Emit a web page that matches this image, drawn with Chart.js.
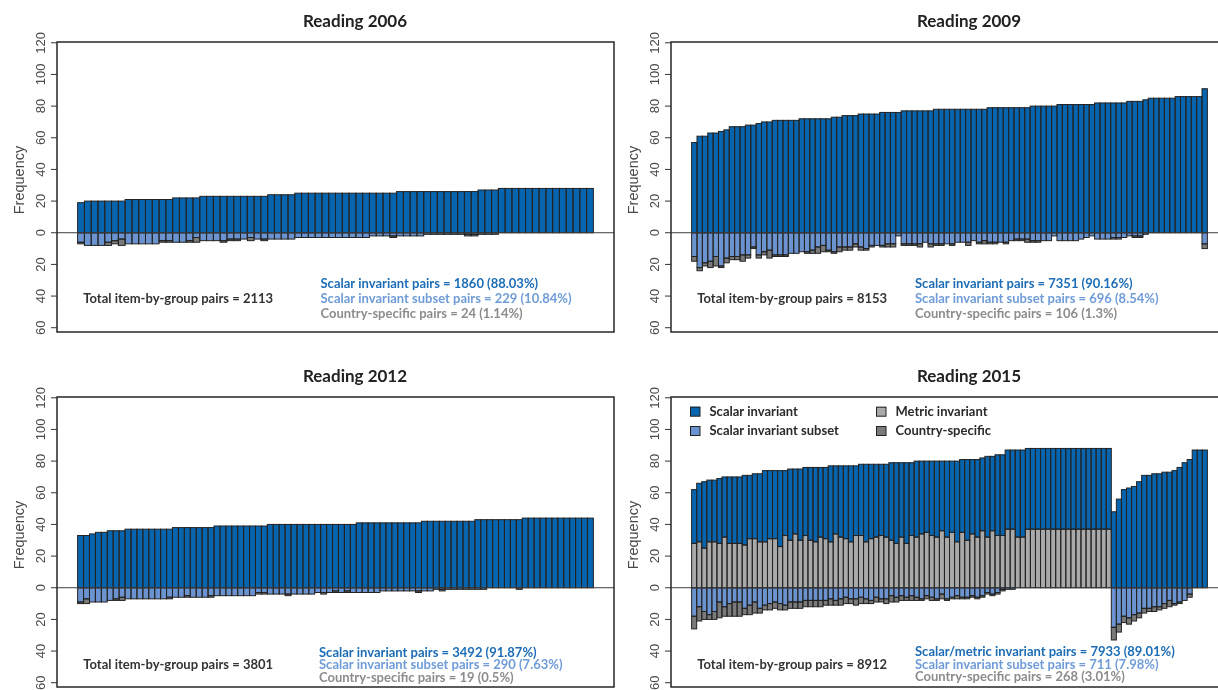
<!DOCTYPE html>
<html>
<head>
<meta charset="utf-8">
<title>Reading item-by-group invariance</title>
<script src="https://cdn.jsdelivr.net/npm/chart.js@4.4.1/dist/chart.umd.min.js"></script>
<style>
  html, body { margin: 0; padding: 0; background: #fff; overflow: hidden; width: 1218px; height: 690px; }
  .panel { position: absolute; width: 630px; height: 355px; }
  .panel canvas { display: block; }
</style>
</head>
<body>
<div class="panel" style="left:0;top:0"><canvas id="c2006" width="630" height="355"></canvas></div>
<div class="panel" style="left:614px;top:0"><canvas id="c2009" width="630" height="355"></canvas></div>
<div class="panel" style="left:0;top:355px"><canvas id="c2012" width="630" height="355"></canvas></div>
<div class="panel" style="left:614px;top:355px"><canvas id="c2015" width="630" height="355"></canvas></div>
<script>
// ---- Data: one bar per group, counts of items in each invariance class ----

// Reading 2006 (76 groups)
const invariant2006 = [19,20,20,20,20,20,20,21,21,21,21,21,21,21,22,22,22,22,
  23,23,23,23,23,23,23,23,23,23,24,24,24,24,
  25,25,25,25,25,25,25,25,25,25,25,25,25,25,25,
  26,26,26,26,26,26,26,26,26,26,26,26,27,27,27,
  28,28,28,28,28,28,28,28,28,28,28,28,28,28];
const subset2006 = [6,8,8,8,6,5,4,7,7,7,7,7,5,5,6,6,5,3,5,5,5,5,4,4,4,3,4,4,4,4,4,4,
  3,3,3,3,3,3,3,3,3,3,3,2,2,2,2,2,2,2,2,1,1,1,1,1,1,1,1,1,1,1,
  0,0,0,0,0,0,0,0,0,0,0,0,0,0];
const specific2006 = [1,0,0,0,2,2,4,0,0,0, 0,0,1,1,0,0,1,3,0,0, 0,1,1,1,0,2,0,1,0,0,
  0,0,0,0,0,0,0,0,0,0, 0,0,0,0,0,0,1,0,0,0, 0,0,0,0,0,0,0,1,1,0,
  0,0,0,0,0,0,0,0,0,0, 0,0,0,0,0,0];

// Reading 2009 (96 groups)
const invariant2009 = [57,61,61,63,63,64,65,67,67,67,68,68,69,70,70,71,71,71,71,71,
  72,72,72,72,72,72,73,73,74,74,74,75,75,75,75,76,76,76,76,77,77,77,77,77,77,
  78,78,78,78,78,78,78,78,78,78,79,79,79,79,79,79,79,79,80,80,80,80,80,
  81,81,81,81,81,81,81,82,82,82,82,82,82,83,83,83,84,85,85,85,85,85,86,86,86,86,86,91];
const subset2009 = [15,22,19,18,15,21,16,15,15,14, 14,9,14,12,11,14,14,14,13,13,
  12,12,11,9,8,11,12,9,9,9, 7,9,10,8,8,8,7,7,2,7, 7,7,7,6,7,7,7,7,7,6,
  6,6,5,6,5,6,6,6,6,5, 4,4,4,5,5,5,5,2,5,5, 5,5,4,3,2,4,4,4,3,3,
  3,2,2,2,1,0,0,0,0,0, 0,0,0,0,0,7];
const specific2009 = [3,2,2,4,6,1,3,2,2,4, 2,1,2,2,5,1,1,1,0,0, 0,1,2,4,4,1,1,3,2,2,
  2,2,1,1,0,1,2,2,0,1, 1,1,2,0,2,1,1,0,1,0, 0,2,0,1,2,1,1,0,1,0,
  1,1,2,1,1,0,0,0,0,0, 0,0,0,0,0,0,0,0,1,1, 0,0,1,1,0,0,0,0,0,0, 0,0,0,0,0,3];

// Reading 2012 (87 groups)
const invariant2012 = [33,33,34,35,35,36,36,36,37,37,37,37,37,37,37,37,
  38,38,38,38,38,38,38,39,39,39,39,39,39,39,39,39,
  40,40,40,40,40,40,40,40,40,40,40,40,40,40,40,
  41,41,41,41,41,41,41,41,41,41,41,42,42,42,42,42,42,42,42,42,
  43,43,43,43,43,43,43,43,44,44,44,44,44,44,44,44,44,44,44,44];
const subset2012 = [9,7,9,9,9,8,7,6,7,7, 7,7,7,7,7,6,6,6,5,6, 6,6,5,5,5,5,5,5,5,5,
  3,3,4,4,4,4,4,4,4,4, 3,3,3,2,3,2,3,3,3,3, 3,2,2,2,2,2,2,2,2,2,
  1,1,1,1,1,1,1,1,1,0, 0,0,0,0,0,0,0,0,0,0, 0,0,0,0,0,0,0];
const specific2012 = [1,3,0,0,0,0,1,2,0,0, 0,0,0,0,0,1,0,0,1,0, 0,0,1,0,0,0,0,0,0,0,
  1,1,0,0,0,1,0,0,0,0, 0,1,0,1,0,1,0,0,0,0, 0,0,0,0,0,0,0,1,0,0,
  0,1,0,0,0,0,0,0,0,0, 0,0,0,0,1,0,0,0,0,0, 0,0,0,0,0,0,0];

// Reading 2015 (102 groups); invariant = scalar + metric invariant
const invariant2015 = [62,66,67,68,68,69,70,70,70,70,71,71,72,72,74,74,74,74,74,
  75,75,75,76,76,76,76,76,77,77,77,77,77,77,78,78,78,78,78,78,79,79,79,79,79,
  80,80,80,80,80,80,80,80,80,81,81,81,81,82,83,83,84,84,87,87,87,87,
  88,88,88,88,88,88,88,88,88,88,88,88,88,88,88,88,88,
  48,56,62,63,64,67,71,71,72,72,73,73,74,76,79,81,87,87,87];
const metric2015 = [28,29,25,29,29,28,32,28,28,28, 27,31,31,29,29,31,31,26,33,30,
  34,30,33,30,29,32,31,29,34,32, 31,29,33,33,29,31,32,33,32,30,
  28,32,28,33,32,34,35,33,32,36, 32,35,29,35,30,34,32,36,32,36,
  33,33,37,37,32,32,37,37,37,37, 37,37,37,37,37,37,37,37,37,37, 37,37,37,
  0,0,0,0,0,0,0,0,0,0,0,0,0,0,0,0,0,0,0];
const subset2015 = [18,12,15,17,15,9,12,10,9,9, 13,11,9,13,11,10,9,10,11,9,
  9,9,8,8,8,8,8,7,8,7, 6,7,7,6,7,8,6,7,7,5, 6,5,6,5,6,7,5,6,7,4,
  7,6,5,6,6,5,6,5,3,4, 3,1,1,1,0,0,0,0,0,0, 0,0,0,0,0,0,0,0,0,0, 0,0,0,
  25,23,18,19,17,16,13,13,12,12,10,8,10,9,8,4,0,0,0];
const specific2015 = [8,9,5,3,5,10,6,8,9,9, 4,6,7,3,3,4,4,4,3,4,
  4,4,4,4,4,4,3,4,3,4, 4,3,4,4,3,2,3,2,3,4, 3,3,2,3,2,1,2,2,1,3,
  1,1,2,1,1,1,1,1,1,1, 1,1,0,0,0,0,0,0,0,0, 0,0,0,0,0,0,0,0,0,0, 0,0,0,
  8,5,4,4,4,3,3,2,3,2,3,4,1,1,0,2,0,0,0];

// Frequency axis tick labels (negative side is shown as counts)
const tickValues = [-60, -40, -20, 0, 20, 40, 60, 80, 100, 120];

// ---- Styling ----
const COL_SCALAR = '#0764AE';
const COL_SUBSET = '#6A93CF';
const COL_METRIC = '#A9A9AA';
const COL_SPECIFIC = '#7A7A7A';
const COL_BORDER = '#232323';
const TXT_SCALAR = '#1C6DB6';
const TXT_SUBSET = '#6F9CD8';
const TXT_SPECIFIC = '#8C8C8C';
const TXT_DARK = '#333333';

const panels = [
  { id: 'c2006', title: 'Reading 2006', inv: invariant2006, sub: subset2006, spec: specific2006,
    invLabel: 'Scalar invariant pairs', noteX: 320.5, noteY: [288.3, 302.8, 318.3], totalY: 303.3 },
  { id: 'c2009', title: 'Reading 2009', inv: invariant2009, sub: subset2009, spec: specific2009,
    invLabel: 'Scalar invariant pairs', noteX: 301, noteY: [288.3, 302.8, 318.3], totalY: 302.8 },
  { id: 'c2012', title: 'Reading 2012', inv: invariant2012, sub: subset2012, spec: specific2012,
    invLabel: 'Scalar invariant pairs', noteX: 319, noteY: [301.7, 314.3, 326.7], totalY: 314.3 },
  { id: 'c2015', title: 'Reading 2015', inv: invariant2015, metric: metric2015, sub: subset2015, spec: specific2015,
    invLabel: 'Scalar/metric invariant pairs', noteX: 301, noteY: [301, 313.5, 326], totalY: 313.5, legend: true }
];

const sum = a => a.reduce((s, v) => s + v, 0);
const pct = (v, t) => String(Math.round(v / t * 10000) / 100);

// Segment outlines, frame, zero line, rotated axis labels, title, totals and legend
const decorations = {
  id: 'decorations',
  afterDatasetsDraw(chart, args, opts) {
    const { ctx, chartArea: a } = chart;
    const y = chart.scales.y;
    const p = opts.panel;
    ctx.save();

    // outline every bar segment (shared edges, like base-graphics rect borders)
    ctx.strokeStyle = COL_BORDER;
    ctx.lineWidth = 1;
    chart.data.datasets.forEach((ds, di) => {
      const meta = chart.getDatasetMeta(di);
      meta.data.forEach((bar, j) => {
        if (ds.data[j].y == null) return;
        const pr = bar.getProps(['x', 'y', 'base', 'width'], true);
        const l = pr.x - pr.width / 2;
        const t = Math.min(pr.y, pr.base);
        ctx.strokeRect(l, t, pr.width, Math.abs(pr.base - pr.y));
      });
    });

    const y0 = y.getPixelForValue(0);
    ctx.strokeStyle = '#3c3c3c';
    ctx.lineWidth = 1;
    ctx.beginPath(); ctx.moveTo(a.left, y0); ctx.lineTo(a.right, y0); ctx.stroke();

    ctx.strokeStyle = '#262626';
    ctx.lineWidth = 1.5;
    ctx.strokeRect(a.left, a.top, a.right - a.left, a.bottom - a.top);

    // y axis ticks and labels
    ctx.lineWidth = 1;
    ctx.strokeStyle = '#333';
    ctx.fillStyle = '#4a4a4a';
    ctx.font = '13px "Liberation Sans", Arial, sans-serif';
    ctx.textAlign = 'center';
    ctx.textBaseline = 'alphabetic';
    tickValues.forEach(v => {
      const py = y.getPixelForValue(v);
      ctx.beginPath(); ctx.moveTo(a.left - 6, py); ctx.lineTo(a.left, py); ctx.stroke();
      ctx.save();
      ctx.translate(a.left - 12, py);
      ctx.rotate(-Math.PI / 2);
      ctx.fillText(String(Math.abs(v)), 0, 0);
      ctx.restore();
    });

    ctx.save();
    ctx.font = '14.5px "Liberation Sans", Arial, sans-serif';
    ctx.fillStyle = '#4a4a4a';
    ctx.translate(a.left - 33, a.top + 138);
    ctx.rotate(-Math.PI / 2);
    ctx.fillText('Frequency', 0, 0);
    ctx.restore();

    // title
    ctx.fillStyle = '#222';
    ctx.font = 'bold 17px Lato, "Open Sans", sans-serif';
    ctx.textAlign = 'center';
    ctx.fillText(p.title, 355, 26.5);

    // totals
    const nInv = sum(p.inv), nSub = sum(p.sub), nSpec = sum(p.spec);
    const total = nInv + nSub + nSpec;
    ctx.textAlign = 'left';
    ctx.font = 'bold 13px Lato, "Open Sans", sans-serif';
    ctx.fillStyle = TXT_DARK;
    ctx.fillText('Total item-by-group pairs = ' + total, 83.3, p.totalY);
    ctx.fillStyle = TXT_SCALAR;
    ctx.fillText(p.invLabel + ' = ' + nInv + ' (' + pct(nInv, total) + '%)', p.noteX, p.noteY[0]);
    ctx.fillStyle = TXT_SUBSET;
    ctx.fillText('Scalar invariant subset pairs = ' + nSub + ' (' + pct(nSub, total) + '%)', p.noteX, p.noteY[1]);
    ctx.fillStyle = TXT_SPECIFIC;
    ctx.fillText('Country-specific pairs = ' + nSpec + ' (' + pct(nSpec, total) + '%)', p.noteX, p.noteY[2]);

    if (p.legend) {
      const items = [
        ['Scalar invariant', COL_SCALAR, 76, 51.7],
        ['Scalar invariant subset', COL_SUBSET, 76, 71],
        ['Metric invariant', COL_METRIC, 262, 51.7],
        ['Country-specific', COL_SPECIFIC, 262, 71]
      ];
      ctx.font = 'bold 13px Lato, "Open Sans", sans-serif';
      items.forEach(([label, col, bx, by]) => {
        ctx.fillStyle = col;
        ctx.fillRect(bx, by, 10, 9.5);
        ctx.strokeStyle = '#222';
        ctx.lineWidth = 1;
        ctx.strokeRect(bx + 0.5, by + 0.5, 9.5, 9);
        ctx.fillStyle = '#2a2a2a';
        ctx.fillText(label, bx + 19.5, by + 9.3);
      });
    }
    ctx.restore();
  }
};

panels.forEach(p => {
  const n = p.inv.length;
  const pts = f => p.inv.map((_, i) => ({ x: i + 1, y: f(i) || null }));
  const datasets = [];
  if (p.metric) {
    datasets.push({ label: 'Metric invariant', data: pts(i => p.metric[i]), backgroundColor: COL_METRIC });
  }
  datasets.push({ label: 'Scalar invariant', data: pts(i => p.inv[i] - (p.metric ? p.metric[i] : 0)), backgroundColor: COL_SCALAR });
  datasets.push({ label: 'Scalar invariant subset', data: pts(i => -p.sub[i]), backgroundColor: COL_SUBSET });
  datasets.push({ label: 'Country-specific', data: pts(i => -p.spec[i]), backgroundColor: COL_SPECIFIC });

  new Chart(document.getElementById(p.id), {
    type: 'bar',
    data: { datasets },
    options: {
      responsive: false,
      animation: false,
      devicePixelRatio: 1,
      layout: { padding: { left: 57, right: 16, top: 42, bottom: 23 } },
      datasets: {
        bar: {
          barPercentage: 1,
          categoryPercentage: 1,
          borderWidth: 0,
          borderSkipped: false,
          inflateAmount: 0
        }
      },
      scales: {
        x: { type: 'linear', display: false, stacked: true, offset: false,
             min: 0.5 - 0.04 * n, max: n + 0.5 + 0.04 * n },
        y: { display: false, stacked: true, min: -62.7, max: 120.5 }
      },
      plugins: {
        legend: { display: false },
        tooltip: { enabled: false },
        title: { display: false },
        decorations: { panel: p }
      }
    },
    plugins: [decorations]
  });
});
</script>
</body>
</html>
